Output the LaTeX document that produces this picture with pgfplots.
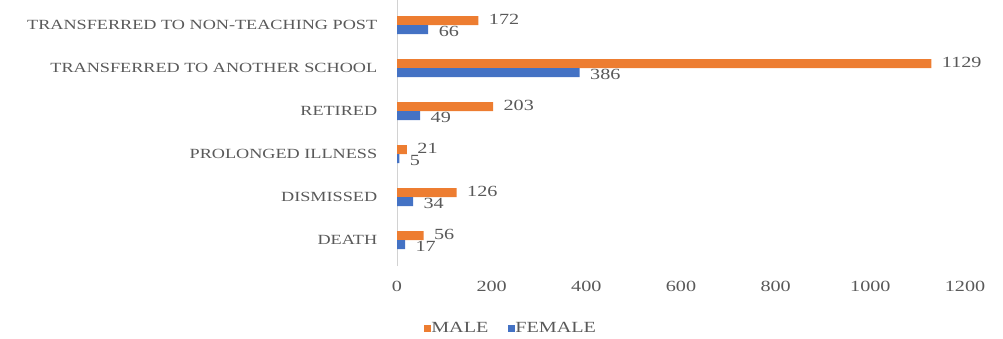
\documentclass[border=0pt]{standalone}
\usepackage{pgfplots}
\pgfplotsset{compat=1.18}
\usepackage{fontspec}
\setmainfont{Liberation Serif}
\newfontfamily\wide[FakeStretch=1.3]{Liberation Serif}
\definecolor{male}{HTML}{ED7D31}
\definecolor{female}{HTML}{4472C4}
\definecolor{txt}{HTML}{595959}
\begin{document}
\begin{tikzpicture}
\begin{axis}[
  at={(397pt,72pt)}, anchor=south west,
  scale only axis, width=568pt, height=266.6pt,
  xbar, bar width=9pt,
  xmin=0, xmax=1200, ymin=-0.6, ymax=5.6,
  xtick={0,200,...,1200},
  ytick={0,1,2,3,4,5},
  yticklabels={DEATH,DISMISSED,PROLONGED ILLNESS,RETIRED,TRANSFERRED TO ANOTHER SCHOOL,TRANSFERRED TO NON-TEACHING POST},
  axis lines*=left,
  axis line style={draw=none},
  xtick style={draw=none}, ytick style={draw=none},
  yticklabel style={font=\wide\fontsize{14}{16}\selectfont, text=txt, xshift=-12pt},
  xticklabel style={font=\wide\fontsize{15.5}{17}\selectfont, text=txt, yshift=-12pt},
  /pgf/number format/assume math mode=true,
  /pgf/number format/1000 sep={},
  nodes near coords,
  every node near coord/.append style={font=\wide\fontsize{15.5}{17}\selectfont, text=txt, anchor=west, xshift=7pt},
  legend style={at={(0.201,-0.233)}, anchor=center, draw=none, fill=none, legend columns=2, font=\wide\fontsize{15.5}{17}\selectfont\color{txt}, /tikz/every even column/.append style={column sep=18pt}, /tikz/every odd column/.append style={column sep=-2pt}},
  legend image code/.code={\fill[#1] (2pt,-3.5pt) rectangle (9pt,3.5pt);},
  clip=false,
]
\draw[gray!35, line width=0.8pt] (axis cs:0,-0.6) -- (axis cs:0,5.6);
\addplot[fill=male, draw=none, bar shift=4.5pt, every node near coord/.append style={yshift=1pt}] coordinates {(56,0) (126,1) (21,2) (203,3) (1129,4) (172,5)};
\addplot[fill=female, draw=none, bar shift=-4.5pt, every node near coord/.append style={yshift=-2pt}] coordinates {(17,0) (34,1) (5,2) (49,3) (386,4) (66,5)};
\legend{MALE,FEMALE}
\end{axis}
\pgfresetboundingbox
\useasboundingbox (0,0) rectangle (1003pt,338pt);
\end{tikzpicture}
\end{document}
